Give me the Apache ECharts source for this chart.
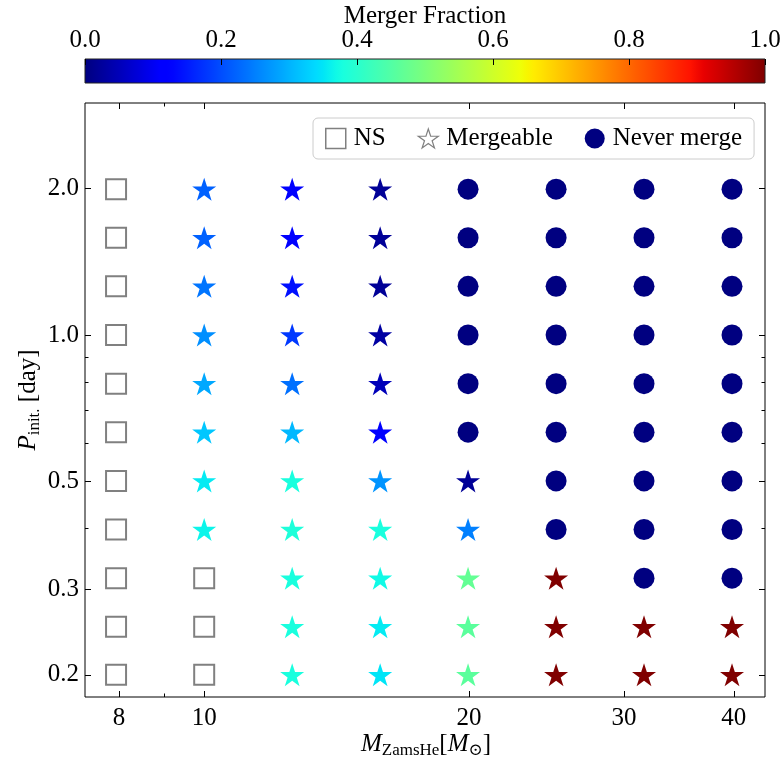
<!DOCTYPE html>
<html>
<head>
<meta charset="utf-8">
<script src="https://cdn.jsdelivr.net/npm/echarts@6/dist/echarts.min.js"></script>
<style>html,body{margin:0;padding:0;background:#fff}#chart{width:783px;height:758px}</style>
</head>
<body>
<div id="chart"></div>
<script>
// ---- data ----
const massValues   = [7.94, 10.0, 12.59, 15.85, 19.95, 25.12, 31.62, 39.81];
const periodValues = [1.995, 1.585, 1.259, 1.0, 0.794, 0.631, 0.501, 0.398, 0.316, 0.251, 0.200];
// outcome per mass column (rows ordered like periodValues): 'NS', 'never', or merger fraction
const outcomeM08 = ['NS','NS','NS','NS','NS','NS','NS','NS','NS','NS','NS'];
const outcomeM10 = [0.22, 0.22, 0.24, 0.265, 0.29, 0.32, 0.355, 0.365, 'NS', 'NS', 'NS'];
const outcomeM13 = [0.12, 0.12, 0.14, 0.18, 0.235, 0.305, 0.38, 0.385, 0.38, 0.38, 0.38];
const outcomeM16 = [0.02, 0.02, 0.02, 0.03, 0.05, 0.11, 0.27, 0.38, 0.37, 0.355, 0.35];
const outcomeM20 = ['never','never','never','never','never','never', 0.02, 0.25, 0.47, 0.46, 0.46];
const outcomeM25 = ['never','never','never','never','never','never','never','never', 1.0, 1.0, 1.0];
const outcomeM32 = ['never','never','never','never','never','never','never','never','never', 1.0, 1.0];
const outcomeM40 = ['never','never','never','never','never','never','never','never','never', 1.0, 1.0];

const xTickLabels = [8, 10, 20, 30, 40];
const xMinorTicks = [9];
const yTickLabels = [0.2, 0.3, 0.5, 1.0, 2.0];
const yMinorTicks = [0.4, 0.6, 0.7, 0.8, 0.9];
const xRange = [7.32, 43.4];
const yRange = [0.18, 3.0];
const cbarTicks = [0.0, 0.2, 0.4, 0.6, 0.8, 1.0];
const cbarRange = [0.0, 1.0];
const xTitle = '{i|M}{s|ZamsHe}{r|[}{i|M}{s|⊙}{r|]}';
const yTitle = '{i|P}{s|init.}{r| [day]}';
const cbarTitle = 'Merger Fraction';

// ---- helpers ----
const outcomes = [outcomeM08, outcomeM10, outcomeM13, outcomeM16, outcomeM20, outcomeM25, outcomeM32, outcomeM40];
const L = Math.log10;
const F = '"Liberation Serif", "Times New Roman", "DejaVu Serif", serif';

function interp(v, xs, ys) {
  if (v <= xs[0]) return ys[0];
  for (let i = 1; i < xs.length; i++) {
    if (v <= xs[i]) return ys[i-1] + (ys[i]-ys[i-1]) * (v - xs[i-1]) / (xs[i] - xs[i-1]);
  }
  return ys[ys.length-1];
}
function jet(v) {
  const r = interp(v, [0, 0.35, 0.66, 0.89, 1], [0, 0, 1, 1, 0.5]);
  const g = interp(v, [0, 0.125, 0.375, 0.64, 0.91, 1], [0, 0, 1, 1, 0, 0]);
  const b = interp(v, [0, 0.11, 0.34, 0.65, 1], [0.5, 1, 1, 0, 0]);
  const h = c => Math.round(c * 255).toString(16).padStart(2, '0');
  return '#' + h(r) + h(g) + h(b);
}
function starPath() {
  const pts = [];
  for (let i = 0; i < 10; i++) {
    const a = (-90 + i * 36) * Math.PI / 180;
    const r = i % 2 ? 38.1966 : 100;
    pts.push((r * Math.cos(a)).toFixed(2) + ',' + (r * Math.sin(a)).toFixed(2));
  }
  return 'path://M' + pts.join('L') + 'Z';
}
const STAR = starPath();

const nsData = [], neverData = [], mergeData = [];
outcomes.forEach((col, i) => {
  col.forEach((val, j) => {
    const x = L(massValues[i]), y = L(periodValues[j]);
    if (val === 'NS') nsData.push([x, y]);
    else if (val === 'never') neverData.push([x, y]);
    else mergeData.push({ value: [x, y, val], itemStyle: { color: jet(val) } });
  });
});

const gradStops = [];
for (let k = 0; k <= 100; k++) gradStops.push({ offset: k / 100, color: jet(k / 100) });

function xAx(pos, vals, len, labels) {
  return {
    type: 'value', gridIndex: 0, position: pos, min: L(xRange[0]), max: L(xRange[1]),
    axisLine: { show: false, onZero: false }, splitLine: { show: false },
    axisTick: { show: true, inside: true, length: len, customValues: vals.map(L), lineStyle: { color: '#000', width: 1 } },
    axisLabel: labels ? { show: true, customValues: vals.map(L), margin: 9, fontSize: 25, color: '#000', fontFamily: F,
      formatter: v => String(Math.round(Math.pow(10, v))) } : { show: false }
  };
}
function yAx(pos, vals, len, labels) {
  return {
    type: 'value', gridIndex: 0, position: pos, min: L(yRange[0]), max: L(yRange[1]),
    axisLine: { show: false, onZero: false }, splitLine: { show: false },
    axisTick: { show: true, inside: true, length: len, customValues: vals.map(L), lineStyle: { color: '#000', width: 1 } },
    axisLabel: labels ? { show: true, customValues: vals.map(L), margin: 6, fontSize: 25, color: '#000', fontFamily: F,
      formatter: v => Math.pow(10, v).toFixed(1) } : { show: false }
  };
}

const subRich = {
  i: { fontFamily: F, fontStyle: 'italic', fontSize: 25, lineHeight: 30, fill: '#000', color: '#000' },
  s: { fontFamily: F, fontSize: 17, lineHeight: 14, verticalAlign: 'bottom', fill: '#000', color: '#000' },
  r: { fontFamily: F, fontSize: 25, lineHeight: 30, fill: '#000', color: '#000' }
};

const xAxes = [xAx('bottom', xTickLabels, 6, true), xAx('bottom', xMinorTicks, 3.5, false),
               xAx('top', xTickLabels, 6, false), xAx('top', xMinorTicks, 3.5, false)];
xAxes.push({
  type: 'value', gridIndex: 1, position: 'top', min: cbarRange[0], max: cbarRange[1], z: 10,
  axisLine: { show: false, onZero: false }, splitLine: { show: false },
  axisTick: { show: true, inside: true, length: 6, customValues: cbarTicks, lineStyle: { color: '#000', width: 1 } },
  axisLabel: { show: true, customValues: cbarTicks, margin: 6, fontSize: 25, color: '#000', fontFamily: F, formatter: v => v.toFixed(1) }
});

const yAxes = [yAx('left', yTickLabels, 6, true), yAx('left', yMinorTicks, 3.5, false),
               yAx('right', yTickLabels, 6, false), yAx('right', yMinorTicks, 3.5, false)];
yAxes.push({ type: 'value', gridIndex: 1, min: 0, max: 1, show: false, axisLine: { onZero: false } });

const option = {
  animation: false,
  backgroundColor: '#fff',
  textStyle: { fontFamily: F },
  grid: [
    { left: 85, top: 103, width: 680, height: 594, show: true, borderColor: '#000', borderWidth: 1,
      backgroundColor: 'transparent', containLabel: false, outerBoundsMode: 'none' },
    { left: 85, top: 59, width: 680, height: 24, show: true, borderColor: '#222', borderWidth: 1,
      backgroundColor: 'transparent', z: 10, containLabel: false, outerBoundsMode: 'none' }
  ],
  graphic: [
    { type: 'text', x: 425, y: 16, z: 20, style: { text: cbarTitle, font: '25px ' + F, fill: '#000', align: 'center', verticalAlign: 'middle' } },
    { type: 'text', x: 426, y: 744, z: 20, style: { text: xTitle, rich: subRich, fill: '#000', align: 'center', verticalAlign: 'middle' } },
    { type: 'text', x: 28, y: 400, z: 20, rotation: Math.PI / 2, style: { text: yTitle, rich: subRich, fill: '#000', align: 'center', verticalAlign: 'middle' } }
  ],
  legend: {
    left: 313, top: 118, orient: 'horizontal',
    padding: [8, 12, 8, 12], itemGap: 32, itemWidth: 20, itemHeight: 20,
    borderColor: '#cccccc', borderWidth: 1, borderRadius: 5, backgroundColor: 'rgba(255,255,255,0.85)',
    textStyle: { fontFamily: F, fontSize: 25, color: '#000', padding: [0, 0, 0, 3] },
    data: [
      { name: 'NS', icon: 'rect', itemStyle: { color: 'rgba(255,255,255,0)', borderColor: '#808080', borderWidth: 1.5, opacity: 1 } },
      { name: 'Mergeable', icon: STAR, itemStyle: { color: '#fff', borderColor: '#808080', borderWidth: 1.2, opacity: 1 } },
      { name: 'Never merge', icon: 'circle', itemStyle: { color: '#000080', opacity: 1 } }
    ]
  },
  xAxis: xAxes,
  yAxis: yAxes,
  series: [
    { name: 'NS', type: 'scatter', xAxisIndex: 0, yAxisIndex: 0, symbol: 'rect', symbolSize: 20, data: nsData,
      itemStyle: { color: 'rgba(255,255,255,0)', borderColor: '#808080', borderWidth: 2, opacity: 1 } },
    { name: 'Mergeable', type: 'scatter', xAxisIndex: 0, yAxisIndex: 0, symbol: STAR, symbolSize: [24, 23], data: mergeData,
      itemStyle: { opacity: 1 } },
    { name: 'Never merge', type: 'scatter', xAxisIndex: 0, yAxisIndex: 0, symbol: 'circle', symbolSize: 21, data: neverData,
      itemStyle: { color: '#000080', opacity: 1 } },
    { name: 'colorbar', type: 'custom', xAxisIndex: 4, yAxisIndex: 4, z: 1, silent: true,
      data: [[cbarRange[0], cbarRange[1]]],
      renderItem: (params, api) => {
        const p0 = api.coord([api.value(0), 0]);
        const p1 = api.coord([api.value(1), 1]);
        return { type: 'rect', shape: { x: p0[0], y: p1[1], width: p1[0] - p0[0], height: p0[1] - p1[1] },
          style: { fill: { type: 'linear', x: 0, y: 0, x2: 1, y2: 0, colorStops: gradStops } } };
      } }
  ]
};
const chart = echarts.init(document.getElementById('chart'), null, { renderer: 'canvas' });
chart.setOption(option);
</script>
</body>
</html>
